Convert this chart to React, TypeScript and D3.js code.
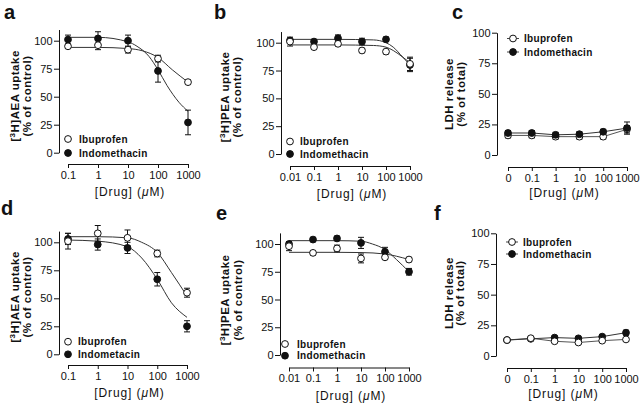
import React, { useEffect, useRef } from 'react';
import * as d3 from 'd3';

const FONT = '"Liberation Sans", Arial, sans-serif';
const INK = '#111';

// doses
const doses4 = [0.1, 1, 10, 100, 1000];
const doses5 = [0.01, 0.1, 1, 10, 100, 1000];
const ldhDoses = ['0', '0.1', '1', '10', '100', '1000'];
const yTicks = [0, 25, 50, 75, 100];

// a: [3H]AEA uptake
const aIbu = [95, 96, 92, 84, 63];
const aIbuErr = [2, 4, 3, 3, 2];
const aIndo = [101, 102, 100, 73, 27];
const aIndoErr = [4, 6, 5, 10, 11];
const aIbuFitX = [0.1, 1, 10, 30, 100, 300, 1000];
const aIbuFitY = [94, 94, 93, 91, 85, 74, 63];
const aIndoFitX = [0.1, 1, 10, 20, 50, 100, 200, 500, 1000];
const aIndoFitY = [103, 103, 99, 95, 86, 74, 60, 45, 37];

// b: [3H]PEA uptake
const bIbu = [101, 96, 99, 93, 92, 81];
const bIbuErr = [4, 2, 2, 2, 2, 6];
const bIndo = [102, 101, 104, 101, 103, 80];
const bIndoErr = [2, 2, 3, 3, 2, 6];
const bIbuFitX = [0.01, 1, 30, 100, 200, 500, 1000];
const bIbuFitY = [98, 98, 97.5, 96, 93, 87, 82];
const bIndoFitX = [0.01, 1, 30, 100, 200, 500, 1000];
const bIndoFitY = [103, 103, 102.5, 100, 96, 87, 80];

// c: LDH release
const cIbu = [16, 16, 15, 15, 15, 21];
const cIbuErr = [2, 2, 2, 2, 2, 3];
const cIndo = [18, 18, 16.5, 17, 19, 22];
const cIndoErr = [2, 2, 2, 2, 2, 5];

// d: [3H]AEA uptake
const dIbu = [101, 108, 104, 90, 55];
const dIbuErr = [7, 7, 7, 3, 4];
const dIndo = [103, 98, 95, 67, 25];
const dIndoErr = [5, 5, 5, 6, 5];
const dIbuFitX = [0.1, 1, 10, 30, 100, 300, 1000];
const dIbuFitY = [105, 105, 104, 100, 91, 73, 52];
const dIndoFitX = [0.1, 1, 10, 30, 100, 300, 1000];
const dIndoFitY = [102, 101, 96, 86, 67, 46, 33];

// e: [3H]PEA uptake
const eIbu = [98, 92, 96, 87, 88, 86];
const eIbuErr = [4, 2, 3, 4, 2, 2];
const eIndo = [100, 104, 105, 101, 93, 75];
const eIndoErr = [2, 2, 2, 5, 4, 3];
const eIbuFitX = [0.01, 1, 10, 100, 300, 1000];
const eIbuFitY = [92.5, 92.5, 92.3, 91, 89, 86];
const eIndoFitX = [0.01, 1, 10, 30, 100, 300, 1000];
const eIndoFitY = [103, 103, 102.5, 100, 95, 86, 75];

// f: LDH release
const fIbu = [13, 14.5, 12, 11, 12.5, 13.5];
const fIbuErr = [1, 1, 1, 1, 1, 1];
const fIndo = [13, 14, 15, 14.4, 15.8, 19];
const fIndoErr = [1, 1, 1, 1, 1, 2];

function Axis({ axis, transform }: any) {
  const ref = useRef<SVGGElement>(null);
  useEffect(() => {
    const g = d3.select(ref.current);
    g.selectAll('*').remove();
    g.call(axis);
    g.attr('font-family', FONT).attr('font-size', 11);
    g.selectAll('path,line').attr('stroke', INK).attr('stroke-width', 1);
    g.selectAll('text').attr('fill', INK);
  });
  return <g ref={ref} transform={transform} />;
}

function YTitle({ x1, x2, cy, kind }: any) {
  const common = {
    fontFamily: FONT,
    fontWeight: 'bold' as const,
    fontSize: 11.5,
    letterSpacing: 0.5,
    textAnchor: 'middle' as const,
    fill: INK,
  };
  const line1 =
    kind === 'ldh' ? (
      'LDH release'
    ) : (
      <>
        <tspan>[</tspan>
        <tspan dy={-4} fontSize={8}>3</tspan>
        <tspan dy={4}>{kind === 'aea' ? 'H]AEA uptake' : 'H]PEA uptake'}</tspan>
      </>
    );
  const line2 = kind === 'ldh' ? '(% of total)' : '(% of control)';
  return (
    <g>
      <text {...common} transform={`translate(${x1 + 4},${cy}) rotate(-90)`}>{line1}</text>
      <text {...common} transform={`translate(${x2 + 4},${cy}) rotate(-90)`}>{line2}</text>
    </g>
  );
}

function Marker({ cx, cy, filled }: any) {
  return (
    <circle cx={cx} cy={cy} r={3.4} fill={filled ? INK : '#fff'} stroke={INK} strokeWidth={1} />
  );
}

function ErrorBars({ xs, ys, errs, x, y }: any) {
  return (
    <g stroke={INK} strokeWidth={1}>
      {ys.map((v: number, i: number) => {
        const px = x(xs[i]);
        const hi = y(v + errs[i]);
        const lo = y(v - errs[i]);
        return (
          <g key={i}>
            <line x1={px} x2={px} y1={hi} y2={lo} />
            <line x1={px - 3} x2={px + 3} y1={hi} y2={hi} />
            <line x1={px - 3} x2={px + 3} y1={lo} y2={lo} />
          </g>
        );
      })}
    </g>
  );
}

function Legend({ lx, ly, tx, names, withLine }: any) {
  const txt = {
    fontFamily: FONT,
    fontWeight: 'bold' as const,
    fontSize: 10,
    letterSpacing: 0.3,
    fill: INK,
  };
  return (
    <g>
      {[0, 1].map((i) => (
        <g key={i}>
          {withLine && (
            <line x1={lx - 6} x2={lx + 6} y1={ly[i]} y2={ly[i]} stroke="#444" strokeWidth={1} />
          )}
          <Marker cx={lx} cy={ly[i]} filled={i === 1} />
          <text {...txt} x={tx} y={ly[i] + 3.5}>{names[i]}</text>
        </g>
      ))}
    </g>
  );
}

function XTitle({ cx, y }: any) {
  return (
    <text
      x={cx}
      y={y}
      textAnchor="middle"
      fontFamily={FONT}
      fontSize={12}
      letterSpacing={0.9}
      fill={INK}
    >
      [Drug] (<tspan fontStyle="italic">μ</tspan>M)
    </text>
  );
}

function UptakePanel({ p }: any) {
  const x = d3.scaleLog().domain([p.doses[0], 1000]).range([p.x0, p.x1]);
  const y = d3
    .scaleLinear()
    .domain([0, 110])
    .range([p.y0, p.y0 - 1.1 * (p.y0 - p.y100)]);
  const fit = d3
    .line<[number, number]>()
    .x((d) => x(d[0]))
    .y((d) => y(d[1]))
    .curve(d3.curveMonotoneX);
  const ibuFit = p.ibuFitX.map((v: number, i: number) => [v, p.ibuFitY[i]]);
  const indoFit = p.indoFitX.map((v: number, i: number) => [v, p.indoFitY[i]]);
  const xAxis = d3
    .axisBottom(x)
    .tickValues(p.doses)
    .tickFormat((d: any) => d3.format('~g')(d))
    .tickSize(4)
    .tickSizeOuter(0);
  const yAxis = d3.axisLeft(y).tickValues(yTicks).tickSize(5).tickPadding(1.5).tickSizeOuter(0);
  return (
    <g>
      <text x={p.lx} y={p.ly} fontFamily={FONT} fontWeight="bold" fontSize={20} fill={INK}>
        {p.letter}
      </text>
      <Axis axis={yAxis} transform={`translate(${p.x0 - 9},0)`} />
      <Axis axis={xAxis} transform={`translate(0,${p.axisY})`} />
      <YTitle x1={p.tx1} x2={p.tx2} cy={p.tcy} kind={p.kind} />
      <XTitle cx={(p.x0 + p.x1) / 2 + 2} y={p.axisY + 32} />
      <path d={fit(ibuFit) || ''} fill="none" stroke="#333" strokeWidth={1} />
      <path d={fit(indoFit) || ''} fill="none" stroke="#333" strokeWidth={1} />
      <ErrorBars xs={p.doses} ys={p.indo} errs={p.indoErr} x={x} y={y} />
      <ErrorBars xs={p.doses} ys={p.ibu} errs={p.ibuErr} x={x} y={y} />
      {p.indo.map((v: number, i: number) => (
        <Marker key={'f' + i} cx={x(p.doses[i])} cy={y(v)} filled />
      ))}
      {p.ibu.map((v: number, i: number) => (
        <Marker key={'o' + i} cx={x(p.doses[i])} cy={y(v)} />
      ))}
      <Legend lx={p.legX} ly={p.legY} tx={p.legTx} names={p.names} />
    </g>
  );
}

function LdhPanel({ p }: any) {
  const x = d3.scalePoint<string>().domain(ldhDoses).range([p.x0, p.x1]);
  const y = d3.scaleLinear().domain([0, 100]).range([p.y0, p.y100]);
  const px = (d: string) => x(d) as number;
  const line = d3
    .line<number>()
    .x((_, i) => px(ldhDoses[i]))
    .y((d) => y(d));
  const xAxis = d3.axisBottom(x).tickSize(4).tickSizeOuter(0);
  const yAxis = d3.axisLeft(y).tickValues(yTicks).tickSize(5).tickPadding(1.5).tickSizeOuter(0);
  const ibuMarks = p.ibu.map((v: number, i: number) => (
    <Marker key={'o' + i} cx={px(ldhDoses[i])} cy={y(v)} />
  ));
  const indoMarks = p.indo.map((v: number, i: number) => (
    <Marker key={'f' + i} cx={px(ldhDoses[i])} cy={y(v)} filled />
  ));
  return (
    <g>
      <text x={p.lx} y={p.ly} fontFamily={FONT} fontWeight="bold" fontSize={20} fill={INK}>
        {p.letter}
      </text>
      <Axis axis={yAxis} transform={`translate(${p.x0 - 11},0)`} />
      <Axis axis={xAxis} transform={`translate(0,${p.axisY})`} />
      <YTitle x1={p.tx1} x2={p.tx2} cy={p.tcy} kind="ldh" />
      <XTitle cx={(p.x0 + p.x1) / 2 - 3} y={p.axisY + 30} />
      <path d={line(p.ibu) || ''} fill="none" stroke="#555" strokeWidth={1} />
      <path d={line(p.indo) || ''} fill="none" stroke="#333" strokeWidth={1} />
      <ErrorBars xs={ldhDoses} ys={p.indo} errs={p.indoErr} x={px} y={y} />
      <ErrorBars xs={ldhDoses} ys={p.ibu} errs={p.ibuErr} x={px} y={y} />
      {p.filledOnTop ? ibuMarks : indoMarks}
      {p.filledOnTop ? indoMarks : ibuMarks}
      <Legend lx={p.legX} ly={p.legY} tx={p.legTx} names={['Ibuprofen', 'Indomethacin']} withLine />
    </g>
  );
}

const panelA = {
  letter: 'a', lx: 4, ly: 19, kind: 'aea', doses: doses4,
  x0: 68, x1: 188, y0: 152.7, y100: 40.7, axisY: 164,
  tx1: 15, tx2: 27, tcy: 96,
  ibu: aIbu, ibuErr: aIbuErr, indo: aIndo, indoErr: aIndoErr,
  ibuFitX: aIbuFitX, ibuFitY: aIbuFitY, indoFitX: aIndoFitX, indoFitY: aIndoFitY,
  legX: 68, legY: [139, 153], legTx: 79, names: ['Ibuprofen', 'Indomethacin'],
};
const panelB = {
  letter: 'b', lx: 214, ly: 19, kind: 'pea', doses: doses5,
  x0: 290, x1: 410, y0: 154, y100: 42.7, axisY: 166,
  tx1: 225, tx2: 237, tcy: 97,
  ibu: bIbu, ibuErr: bIbuErr, indo: bIndo, indoErr: bIndoErr,
  ibuFitX: bIbuFitX, ibuFitY: bIbuFitY, indoFitX: bIndoFitX, indoFitY: bIndoFitY,
  legX: 290, legY: [141.5, 154], legTx: 300, names: ['Ibuprofen', 'Indomethacin'],
};
const panelC = {
  letter: 'c', lx: 452, ly: 19,
  x0: 508, x1: 627, y0: 155, y100: 32.7, axisY: 167,
  tx1: 449, tx2: 461, tcy: 94,
  ibu: cIbu, ibuErr: cIbuErr, indo: cIndo, indoErr: cIndoErr, filledOnTop: true,
  legX: 513, legY: [38.5, 52], legTx: 524,
};
const panelD = {
  letter: 'd', lx: 1, ly: 215, kind: 'aea', doses: doses4,
  x0: 68, x1: 187, y0: 354.3, y100: 242.3, axisY: 365,
  tx1: 15, tx2: 27, tcy: 297,
  ibu: dIbu, ibuErr: dIbuErr, indo: dIndo, indoErr: dIndoErr,
  ibuFitX: dIbuFitX, ibuFitY: dIbuFitY, indoFitX: dIndoFitX, indoFitY: dIndoFitY,
  legX: 68, legY: [341.7, 354.3], legTx: 78, names: ['Ibuprofen', 'Indometacin'],
};
const panelE = {
  letter: 'e', lx: 216, ly: 220, kind: 'pea', doses: doses5,
  x0: 289, x1: 409, y0: 355, y100: 244, axisY: 367.5,
  tx1: 225, tx2: 238, tcy: 300,
  ibu: eIbu, ibuErr: eIbuErr, indo: eIndo, indoErr: eIndoErr,
  ibuFitX: eIbuFitX, ibuFitY: eIbuFitY, indoFitX: eIndoFitX, indoFitY: eIndoFitY,
  legX: 285, legY: [344, 355.7], legTx: 297, names: ['Ibuprofen', 'Indomethacin'],
};
const panelF = {
  letter: 'f', lx: 434, ly: 220,
  x0: 507, x1: 626, y0: 356, y100: 233.3, axisY: 368,
  tx1: 449, tx2: 460, tcy: 293,
  ibu: fIbu, ibuErr: fIbuErr, indo: fIndo, indoErr: fIndoErr, filledOnTop: false,
  legX: 512, legY: [242, 254], legTx: 523,
};

export default function App() {
  return (
    <svg
      width={640}
      height={405}
      style={{ position: 'absolute', left: 0, top: 0, background: '#fff' }}
    >
      <UptakePanel p={panelA} />
      <UptakePanel p={panelB} />
      <LdhPanel p={panelC} />
      <UptakePanel p={panelD} />
      <UptakePanel p={panelE} />
      <LdhPanel p={panelF} />
    </svg>
  );
}
